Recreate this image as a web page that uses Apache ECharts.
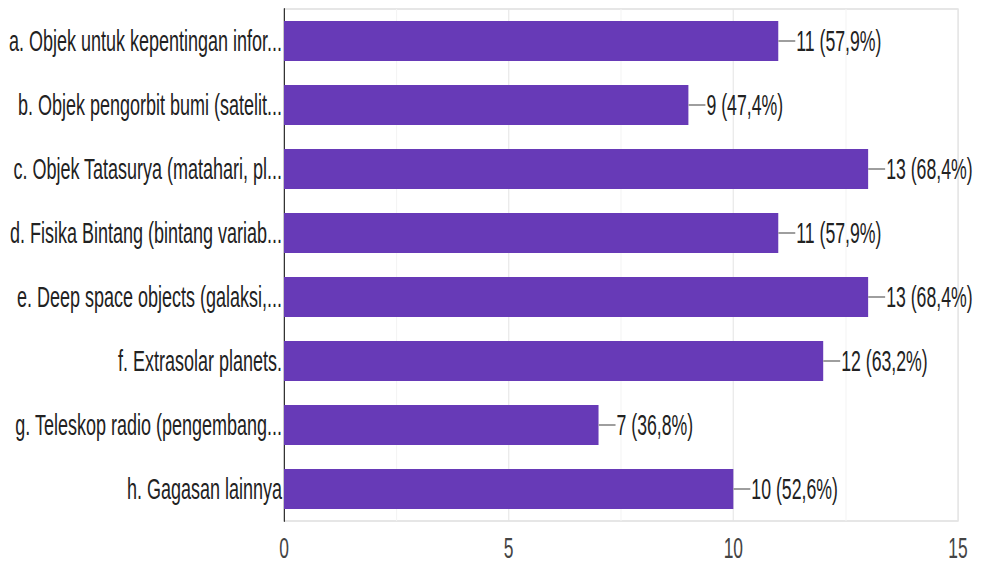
<!DOCTYPE html>
<html>
<head>
<meta charset="utf-8">
<script src="https://cdn.jsdelivr.net/npm/echarts@6/dist/echarts.min.js"></script>
<style>
  html, body { margin: 0; padding: 0; background: #fff; overflow: hidden; }
  #wrap { width: 982px; height: 565px; overflow: hidden; position: relative; }
  /* the chart is laid out wide and squeezed horizontally for condensed type */
  #chart { position: absolute; left: 0; top: 0; height: 565px; transform-origin: 0 0; }
</style>
</head>
<body>
<div id="wrap"><div id="chart"></div></div>
<script>
// Responses per option (19 respondents)
const categories = [
  'a. Objek untuk kepentingan infor...',
  'b. Objek pengorbit bumi (satelit...',
  'c. Objek Tatasurya (matahari, pl...',
  'd. Fisika Bintang (bintang variab...',
  'e. Deep space objects (galaksi,...',
  'f. Extrasolar planets.',
  'g. Teleskop radio (pengembang...',
  'h. Gagasan lainnya'
];
const counts = [11, 9, 13, 11, 13, 12, 7, 10];
const percents = ['57,9', '47,4', '68,4', '57,9', '68,4', '63,2', '36,8', '52,6'];
const xTicks = { min: 0, max: 15, interval: 5 };

const SX = 0.6;                       // horizontal squeeze
const W = Math.round(982 / SX);
const px = v => v / SX;               // screen px -> layout px (horizontal)

const el = document.getElementById('chart');
el.style.width = W + 'px';
el.style.transform = 'scaleX(' + SX + ')';

const chart = echarts.init(el, null, { renderer: 'svg', width: W, height: 565 });
const FONT = '"Liberation Sans", Arial, sans-serif';

chart.setOption({
  animation: false,
  grid: {
    left: px(284), right: W - px(958), top: 9, bottom: 44,
    show: true, borderColor: '#e6e6e6', borderWidth: 2, containLabel: false
  },
  xAxis: {
    type: 'value',
    min: xTicks.min, max: xTicks.max, interval: xTicks.interval,
    axisLine: { show: false },
    axisTick: { show: false },
    axisLabel: { fontFamily: FONT, fontSize: 29, color: '#444', margin: 16, lineHeight: 22, verticalAlign: 'top' },
    splitLine: { show: true, lineStyle: { color: '#e3e3e3', width: px(1) } },
    minorTick: { show: false, splitNumber: 2 },
    minorSplitLine: { show: true, lineStyle: { color: '#f3f3f3', width: px(1) } }
  },
  yAxis: {
    type: 'category',
    data: categories,
    inverse: true,
    axisLine: { show: true, lineStyle: { color: '#333', width: px(1.2) } },
    axisTick: { show: false },
    axisLabel: { fontFamily: FONT, fontSize: 30, color: '#222', margin: px(2) }
  },
  series: [{
    type: 'bar',
    data: counts,
    barCategoryGap: '37.5%',
    itemStyle: { color: '#673ab7' },
    label: {
      show: true,
      position: 'right',
      distance: 0,
      formatter: p => '{ln|}{t|' + p.value + ' (' + percents[p.dataIndex] + '%)}',
      rich: {
        ln: { width: px(17), height: 2, backgroundColor: '#9e9e9e' },
        t: { fontFamily: FONT, fontSize: 29.5, color: '#222', padding: [0, 0, 0, px(1)] }
      }
    }
  }]
});
</script>
</body>
</html>
